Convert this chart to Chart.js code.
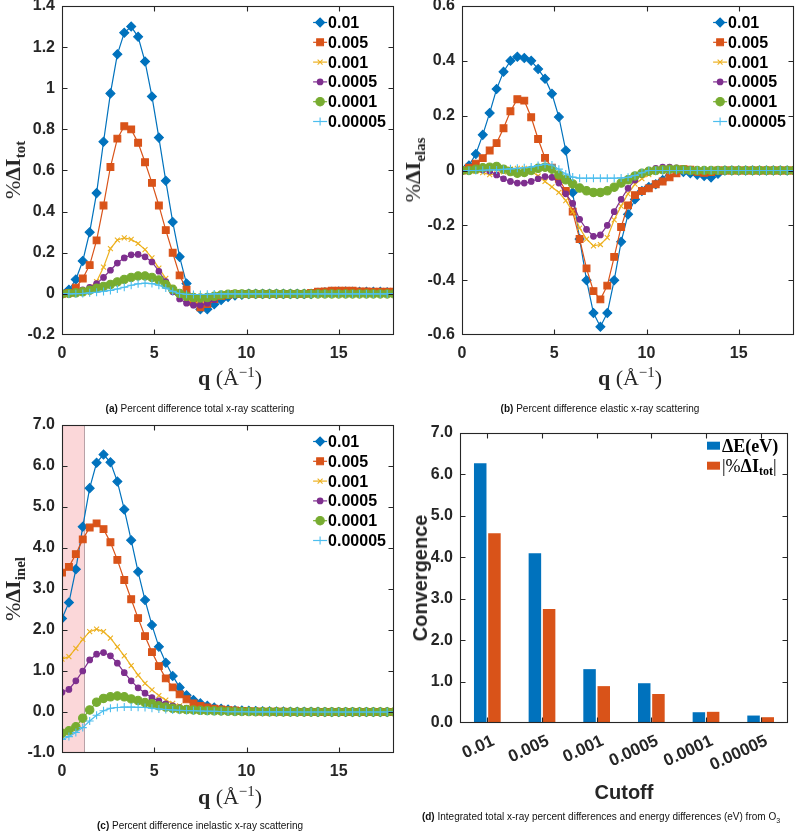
<!DOCTYPE html>
<html><head><meta charset="utf-8">
<script src="https://cdn.jsdelivr.net/npm/chart.js@4.4.1/dist/chart.umd.min.js"></script>
<style>
html,body{margin:0;padding:0;background:#fff}
body{width:800px;height:831px;position:relative;overflow:hidden;font-family:'Liberation Sans',Arial,sans-serif}
canvas{position:absolute}
.lbl{position:absolute;white-space:nowrap;color:#262626;transform:translate(-50%,-50%);z-index:2;line-height:1}
.tex{font-family:'Liberation Serif','Times New Roman',serif;font-size:22px}
.tex sub{font-size:68%;vertical-align:baseline;position:relative;top:0.32em}
.tex sup{font-size:68%;vertical-align:baseline;position:relative;top:-0.55em}
.rot{transform:translate(-50%,-50%) rotate(-90deg)}
.sans{font-weight:bold;font-size:20px}
.cap{position:absolute;white-space:nowrap;font-size:10px;color:#111;transform:translate(-50%,-50%);z-index:2}
.cap sub{font-size:70%}
</style></head>
<body>
<canvas id="cA" width="400" height="415" style="left:0;top:0"></canvas>
<canvas id="cB" width="400" height="415" style="left:400px;top:0"></canvas>
<canvas id="cC" width="400" height="416" style="left:0;top:415px"></canvas>
<canvas id="cD" width="400" height="416" style="left:400px;top:415px"></canvas>

<div class="lbl tex rot" style="left:13px;top:170px">%<b>ΔI<sub>tot</sub></b></div>
<div class="lbl tex" style="left:230px;top:378px"><b>q</b> (Å<sup>−1</sup>)</div>
<div class="cap" style="left:200px;top:408px"><b>(a)</b> Percent difference total x-ray scattering</div>

<div class="lbl tex rot" style="left:413px;top:170px">%<b>ΔI<sub>elas</sub></b></div>
<div class="lbl tex" style="left:630px;top:378px"><b>q</b> (Å<sup>−1</sup>)</div>
<div class="cap" style="left:600px;top:408px"><b>(b)</b> Percent difference elastic x-ray scattering</div>

<div class="lbl tex rot" style="left:13px;top:589px">%<b>ΔI<sub>inel</sub></b></div>
<div class="lbl tex" style="left:230px;top:797px"><b>q</b> (Å<sup>−1</sup>)</div>
<div class="cap" style="left:200px;top:825px"><b>(c)</b> Percent difference inelastic x-ray scattering</div>

<div class="lbl sans rot" style="left:420px;top:578px">Convergence</div>
<div class="lbl sans" style="left:624px;top:792px">Cutoff</div>
<div class="cap" style="left:601px;top:817px"><b>(d)</b> Integrated total x-ray percent differences and energy differences (eV) from O<sub>3</sub></div>

<script>
// ---------------- DATA ----------------
const cutoffs = ['0.01','0.005','0.001','0.0005','0.0001','0.00005'];

const q = [0,0.375,0.75,1.125,1.5,1.875,2.25,2.625,3,3.375,
  3.75,4.125,4.5,4.875,5.25,5.625,6,6.375,6.75,7.125,
  7.5,7.875,8.25,8.625,9,9.375,9.75,10.125,10.5,10.875,
  11.25,11.625,12,12.375,12.75,13.125,13.5,13.875,14.25,14.625,
  15,15.375,15.75,16.125,16.5,16.875,17.25,17.625,18];

const qTicks = [0,5,10,15];
const qTickLabels = ['0','5','10','15'];

// (a) total
const tot_01 = [0,0.02,0.07,0.16,0.30,0.49,0.74,0.975,1.165,1.27,
  1.30,1.25,1.13,0.96,0.76,0.55,0.35,0.18,0.05,-0.045,
  -0.075,-0.075,-0.05,-0.03,-0.015,-0.008,-0.004,0,0,0,
  0,0,0,0,0,0,0,0.005,0.008,0.01,
  0.012,0.012,0.01,0.01,0.01,0.01,0.01,0.008,0.008];
const tot_005 = [0,0.005,0.03,0.075,0.14,0.26,0.43,0.617,0.755,0.815,
  0.80,0.735,0.64,0.54,0.43,0.31,0.20,0.09,0.02,-0.04,
  -0.065,-0.05,-0.025,-0.01,-0.005,0,0,0,0,0,
  0,0,0,0,0,0,0.005,0.01,0.012,0.015,
  0.015,0.015,0.015,0.012,0.012,0.01,0.01,0.01,0.01];
const tot_001 = [0,0.002,0.006,0.015,0.03,0.06,0.13,0.22,0.262,0.272,
  0.265,0.245,0.215,0.175,0.125,0.075,0.03,-0.005,-0.025,-0.04,
  -0.045,-0.04,-0.025,-0.012,-0.004,0,0,0,0,0,
  0,0,0,0,0,0,0,0,0,0,
  0,0,0,0,0,0,0,0,0];
const tot_0005 = [0,0.003,0.01,0.02,0.032,0.05,0.08,0.115,0.15,0.175,
  0.19,0.192,0.18,0.155,0.11,0.06,0.01,-0.025,-0.045,-0.055,
  -0.055,-0.045,-0.028,-0.012,-0.004,0,0,0,0,0,
  0,0,0,0,0,0,0,0,0,0,
  0,0,0,0,0,0,0,0,0];
const tot_0001 = [0,0.002,0.005,0.01,0.018,0.027,0.036,0.046,0.058,0.07,
  0.08,0.087,0.087,0.08,0.068,0.045,0.022,0.002,-0.012,-0.018,
  -0.02,-0.018,-0.012,-0.006,-0.002,0,0,0,0,0,
  0,0,0,0,0,0,0,0,0,0,
  0,0,0,0,0,0,0,0,0];
const tot_00005 = [0,0,0.001,0.002,0.005,0.008,0.012,0.017,0.024,0.032,
  0.042,0.049,0.052,0.05,0.042,0.028,0.012,0.002,-0.002,-0.003,
  -0.003,-0.002,0,0,0,0,0,0,0,0,
  0,0,0,0,0,0,0,0,0,0,
  0,0,0,0,0,0,0,0,0];

// (b) elastic
const elas_01 = [0,0.018,0.06,0.13,0.21,0.297,0.36,0.40,0.415,0.41,
  0.40,0.37,0.335,0.28,0.195,0.073,-0.08,-0.25,-0.40,-0.52,
  -0.57,-0.52,-0.40,-0.26,-0.16,-0.105,-0.075,-0.06,-0.05,-0.035,
  0.005,0,-0.005,-0.01,-0.015,-0.02,-0.025,-0.012,0,0,
  0,0,0,0,0,0,0,0,0];
const elas_005 = [0,0.01,0.025,0.045,0.073,0.10,0.154,0.216,0.26,0.255,
  0.194,0.115,0.046,0.01,-0.03,-0.075,-0.15,-0.25,-0.357,-0.44,
  -0.47,-0.42,-0.315,-0.206,-0.127,-0.09,-0.075,-0.065,-0.05,-0.04,
  -0.025,-0.01,0.005,0.003,-0.005,-0.008,-0.006,0,0,0,
  0,0,0,0,0,0,0,0,0];
const elas_001 = [0,0,-0.003,-0.008,-0.015,-0.012,-0.005,0.005,0.008,0.008,
  -0.002,-0.02,-0.04,-0.06,-0.08,-0.11,-0.15,-0.21,-0.25,-0.275,
  -0.27,-0.245,-0.18,-0.13,-0.085,-0.05,-0.03,-0.015,-0.005,0.003,
  0.006,0.006,0.003,-0.003,-0.003,-0.003,-0.003,0,0,0,
  0,0,0,0,0,0,0,0,0];
const elas_0005 = [0,0,0.003,0.003,-0.002,-0.016,-0.03,-0.04,-0.046,-0.046,
  -0.04,-0.03,-0.022,-0.025,-0.046,-0.085,-0.12,-0.178,-0.215,-0.24,
  -0.235,-0.20,-0.15,-0.105,-0.065,-0.035,-0.015,0,0.008,0.012,
  0.012,0.01,0.006,0.003,0,0,0,0,0,0,
  0,0,0,0,0,0,0,0,0];
const elas_0001 = [0,0,0.005,0.01,0.012,0.015,0.005,-0.004,-0.01,-0.007,
  0,0.008,0.012,0.005,-0.016,-0.034,-0.049,-0.064,-0.074,-0.08,
  -0.08,-0.074,-0.061,-0.046,-0.034,-0.02,-0.01,-0.003,0,0.003,
  0.005,0.005,0.003,0,0,0,0,0,0,0,
  0,0,0,0,0,0,0,0,0];
const elas_00005 = [0,0,0,0.001,0.002,0.002,0.004,0.006,0.008,0.01,
  0.013,0.018,0.023,0.02,0.005,-0.013,-0.024,-0.028,-0.028,-0.028,
  -0.028,-0.028,-0.028,-0.027,-0.025,-0.018,-0.008,0,0,0,
  0,0,0,0,0,0,0,0,0,0,
  0,0,0,0,0,0,0,0,0];

// (c) inelastic
const inel_01 = [2.28,2.67,3.48,4.52,5.46,6.08,6.28,6.09,5.62,4.94,
  4.19,3.42,2.73,2.12,1.59,1.20,0.88,0.60,0.41,0.29,
  0.21,0.15,0.11,0.08,0.06,0.045,0.035,0.03,0.025,0.02,
  0.015,0.012,0.01,0.008,0.006,0.005,0.004,0.003,0.002,0.002,
  0.001,0.001,0,0,0,0,0,0,0];
const inel_005 = [3.40,3.54,3.85,4.21,4.50,4.60,4.46,4.14,3.71,3.22,
  2.75,2.29,1.85,1.46,1.12,0.82,0.60,0.43,0.31,0.21,
  0.15,0.11,0.08,0.06,0.045,0.035,0.025,0.02,0.015,0.01,
  0.008,0.006,0.005,0.004,0.003,0.002,0.002,0.001,0.001,0,
  0,0,0,0,0,0,0,0,0];
const inel_001 = [1.29,1.35,1.55,1.77,1.96,2.02,1.96,1.80,1.59,1.37,
  1.13,0.90,0.70,0.54,0.40,0.29,0.21,0.15,0.11,0.08,
  0.06,0.045,0.035,0.025,0.02,0.015,0.012,0.01,0.008,0.006,
  0.005,0.004,0.003,0.002,0.002,0.001,0.001,0,0,0,
  0,0,0,0,0,0,0,0,0];
const inel_0005 = [0.48,0.55,0.76,1.00,1.27,1.41,1.45,1.37,1.19,0.96,
  0.76,0.59,0.46,0.35,0.27,0.20,0.15,0.11,0.08,0.06,
  0.045,0.035,0.025,0.02,0.015,0.012,0.01,0.008,0.006,0.005,
  0.004,0.003,0.002,0.002,0.001,0.001,0,0,0,0,
  0,0,0,0,0,0,0,0,0];
const inel_0001 = [-0.52,-0.46,-0.36,-0.15,0.05,0.24,0.33,0.37,0.39,0.37,
  0.32,0.28,0.23,0.20,0.15,0.12,0.09,0.07,0.06,0.05,
  0.04,0.035,0.03,0.025,0.02,0.015,0.012,0.01,0.008,0.006,
  0.005,0.004,0.003,0.002,0.002,0.001,0.001,0,0,0,
  0,0,0,0,0,0,0,0,0];
const inel_00005 = [-0.67,-0.60,-0.50,-0.38,-0.22,-0.08,0.03,0.09,0.11,0.12,
  0.12,0.115,0.11,0.09,0.075,0.06,0.05,0.04,0.035,0.03,
  0.025,0.02,0.015,0.012,0.01,0.008,0.006,0.005,0.004,0.003,
  0.002,0.002,0.001,0.001,0,0,0,0,0,0,
  0,0,0,0,0,0,0,0,0];

// (d) bars
const energyDiff = [6.27,4.10,1.30,0.96,0.26,0.18];
const intTotDiff = [4.58,2.75,0.89,0.70,0.27,0.14];

// tick values / labels
const totTicks = [-0.2,0,0.2,0.4,0.6,0.8,1,1.2,1.4];
const totTickLabels = ['-0.2','0','0.2','0.4','0.6','0.8','1','1.2','1.4'];
const elasTicks = [-0.6,-0.4,-0.2,0,0.2,0.4,0.6];
const elasTickLabels = ['-0.6','-0.4','-0.2','0','0.2','0.4','0.6'];
const inelTicks = [-1,0,1,2,3,4,5,6,7];
const inelTickLabels = ['-1.0','0.0','1.0','2.0','3.0','4.0','5.0','6.0','7.0'];
const convTicks = [0,1,2,3,4,5,6,7];
const convTickLabels = ['0.0','1.0','2.0','3.0','4.0','5.0','6.0','7.0'];
const shadeRange = [0,1.2];

// ---------------- STYLE ----------------
const INK = '#262626';
const STYLES = [
  {color:'#0072BD', pointStyle:'rectRot', radius:4.5},
  {color:'#D95319', pointStyle:'rect', radius:4.8},
  {color:'#EDB120', pointStyle:'crossRot', radius:3.5},
  {color:'#7E2F8E', pointStyle:'circle', radius:2.8},
  {color:'#77AC30', pointStyle:'circle', radius:4.2},
  {color:'#4DBEEE', pointStyle:'cross', radius:4}
];
Chart.defaults.font.family = "'Liberation Sans', Arial, sans-serif";
Chart.defaults.font.size = 16;
Chart.defaults.font.weight = 'bold';
Chart.defaults.color = INK;

function makeSets(seriesList){
  return seriesList.map((vals, i) => {
    const s = STYLES[i];
    return {
      label: cutoffs[i],
      data: q.map((x, k) => ({x: x, y: vals[k]})),
      borderColor: s.color, backgroundColor: s.color,
      pointBackgroundColor: s.color, pointBorderColor: s.color,
      pointStyle: s.pointStyle, pointRadius: s.radius, pointHoverRadius: s.radius,
      pointBorderWidth: 1.1, borderWidth: 1.2, tension: 0,
      order: seriesList.length - i
    };
  });
}

function drawMarker(ctx, s, x, y){
  ctx.save();
  ctx.fillStyle = s.color; ctx.strokeStyle = s.color; ctx.lineWidth = 1.1;
  if (Chart.helpers && Chart.helpers.drawPoint) {
    Chart.helpers.drawPoint(ctx, {pointStyle: s.pointStyle, rotation: 0, radius: s.radius, borderWidth: 1.1}, x, y);
  } else {
    ctx.beginPath(); ctx.arc(x, y, s.radius, 0, Math.PI*2); ctx.fill();
  }
  ctx.restore();
}

const matlabAxes = {
  id: 'matlabAxes',
  beforeDatasetsDraw(chart, args, o){
    if (!o.shade) return;
    const {ctx, chartArea: a, scales} = chart;
    const x0 = scales.x.getPixelForValue(o.shade[0]);
    const x1 = scales.x.getPixelForValue(o.shade[1]);
    ctx.save();
    ctx.fillStyle = '#fbd7d9';
    ctx.fillRect(x0, a.top, x1 - x0, a.bottom - a.top);
    ctx.strokeStyle = '#b8a2a7'; ctx.lineWidth = 1;
    ctx.beginPath(); ctx.moveTo(Math.round(x1) + 0.5, a.top); ctx.lineTo(Math.round(x1) + 0.5, a.bottom); ctx.stroke();
    ctx.restore();
  },
  afterDatasetsDraw(chart){
    const {ctx, chartArea: a, scales} = chart;
    const L = Math.round(a.left) + 0.5, R = Math.round(a.right) - 0.5;
    const T = Math.round(a.top) + 0.5, B = Math.round(a.bottom) - 0.5;
    ctx.save();
    ctx.strokeStyle = INK; ctx.lineWidth = 1.1;
    ctx.strokeRect(L, T, R - L, B - T);
    ctx.beginPath();
    scales.x.ticks.forEach((t, i) => {
      const px = Math.round(scales.x.getPixelForTick(i)) + 0.5;
      if (px <= L + 1 || px >= R - 1) return;
      ctx.moveTo(px, B); ctx.lineTo(px, B - 5);
      ctx.moveTo(px, T); ctx.lineTo(px, T + 5);
    });
    scales.y.ticks.forEach((t, i) => {
      const py = Math.round(scales.y.getPixelForTick(i)) + 0.5;
      if (py <= T + 1 || py >= B - 1) return;
      ctx.moveTo(L, py); ctx.lineTo(L + 5, py);
      ctx.moveTo(R, py); ctx.lineTo(R - 5, py);
    });
    ctx.stroke();
    ctx.restore();
  }
};

const lineLegend = {
  id: 'lineLegend',
  afterDraw(chart, args, o){
    if (!o.show) return;
    const {ctx, chartArea: a} = chart;
    const x0 = a.right - 81;
    let y = a.top + 16.5;
    chart.data.datasets.forEach((ds, i) => {
      const s = STYLES[i];
      ctx.save();
      ctx.strokeStyle = s.color; ctx.lineWidth = 1.2;
      ctx.beginPath(); ctx.moveTo(x0, y); ctx.lineTo(x0 + 14, y); ctx.stroke();
      ctx.restore();
      drawMarker(ctx, s, x0 + 7, y);
      ctx.save();
      ctx.fillStyle = '#000';
      ctx.font = "bold 16px 'Liberation Sans', Arial, sans-serif";
      ctx.textBaseline = 'middle'; ctx.textAlign = 'left';
      ctx.fillText(ds.label, x0 + 15, y + 1);
      ctx.restore();
      y += 19.8;
    });
  }
};

const barLegend = {
  id: 'barLegend',
  afterDraw(chart, args, o){
    const {ctx, chartArea: a} = chart;
    const x0 = a.right - 81;
    let y = a.top + 12.7;
    const serif = "'Liberation Serif','Times New Roman',serif";
    o.entries.forEach((parts, i) => {
      ctx.save();
      ctx.fillStyle = chart.data.datasets[i].backgroundColor;
      ctx.fillRect(x0, y - 4, 13, 8);
      let x = x0 + 15;
      ctx.fillStyle = '#000'; ctx.textBaseline = 'alphabetic'; ctx.textAlign = 'left';
      parts.forEach(p => {
        const size = p.sub ? 12 : 18;
        ctx.font = (p.bold ? 'bold ' : '') + size + 'px ' + serif;
        ctx.fillText(p.t, x, y + 6 + (p.sub ? 3 : 0));
        x += ctx.measureText(p.t).width;
      });
      ctx.restore();
      y += 20;
    });
  }
};

function fixedTicks(values){ return s => { s.ticks = values.map(v => ({value: v})); }; }

function lineChart(id, seriesList, yMin, yMax, yTicks, yLabels, geo){
  return new Chart(document.getElementById(id), {
    type: 'line',
    data: {datasets: makeSets(seriesList)},
    options: {
      responsive: false, animation: false, events: [],
      layout: {padding: {top: geo.top, right: geo.right, left: 0, bottom: 0}},
      plugins: {legend: {display: false}, tooltip: {enabled: false},
        matlabAxes: {shade: geo.shade || null}, lineLegend: {show: true}},
      scales: {
        x: {type: 'linear', min: 0, max: 18,
          afterBuildTicks: fixedTicks(qTicks),
          ticks: {padding: 9, maxRotation: 0, autoSkip: false, callback: (v, i) => qTickLabels[i]},
          grid: {display: false, drawTicks: false}, border: {display: false},
          afterFit: s => { s.height = geo.xh; s.paddingLeft = 0; s.paddingRight = 0; }},
        y: {type: 'linear', min: yMin, max: yMax,
          afterBuildTicks: fixedTicks(yTicks),
          ticks: {padding: 7, autoSkip: false, callback: (v, i) => yLabels[i]},
          grid: {display: false, drawTicks: false}, border: {display: false},
          afterFit: s => { s.width = geo.yw; s.paddingTop = 0; s.paddingBottom = 0; }}
      }
    },
    plugins: [matlabAxes, lineLegend]
  });
}

lineChart('cA', [tot_01, tot_005, tot_001, tot_0005, tot_0001, tot_00005],
  -0.2, 1.4, totTicks, totTickLabels, {top: 6, right: 2, xh: 80, yw: 62});
lineChart('cB', [elas_01, elas_005, elas_001, elas_0005, elas_0001, elas_00005],
  -0.6, 0.6, elasTicks, elasTickLabels, {top: 6, right: 2, xh: 80, yw: 62});
lineChart('cC', [inel_01, inel_005, inel_001, inel_0005, inel_0001, inel_00005],
  -1, 7, inelTicks, inelTickLabels, {top: 10, right: 2, xh: 78, yw: 62, shade: shadeRange});

new Chart(document.getElementById('cD'), {
  type: 'bar',
  data: {
    labels: cutoffs,
    datasets: [
      {label: 'ΔE(eV)', data: energyDiff, backgroundColor: '#0072BD', categoryPercentage: 0.52, barPercentage: 0.88},
      {label: '|%ΔI_tot|', data: intTotDiff, backgroundColor: '#D95319', categoryPercentage: 0.52, barPercentage: 0.88}
    ]
  },
  options: {
    responsive: false, animation: false, events: [],
    layout: {padding: {top: 18, right: 12, left: 0, bottom: 0}},
    plugins: {legend: {display: false}, tooltip: {enabled: false},
      barLegend: {entries: [
        [{t: 'ΔE(eV)', bold: true}],
        [{t: '|%'}, {t: 'ΔI', bold: true}, {t: 'tot', bold: true, sub: true}, {t: '|'}]
      ]}},
    scales: {
      x: {type: 'category',
        ticks: {padding: 8, labelOffset: 6, minRotation: 25, maxRotation: 25, autoSkip: false, font: {size: 17, weight: 'bold'}},
        grid: {display: false, drawTicks: false}, border: {display: false},
        afterFit: s => { s.height = 108; s.paddingLeft = 0; s.paddingRight = 0; }},
      y: {type: 'linear', min: 0, max: 7,
        afterBuildTicks: fixedTicks(convTicks),
        ticks: {padding: 7, autoSkip: false, callback: (v, i) => convTickLabels[i]},
        grid: {display: false, drawTicks: false}, border: {display: false},
        afterFit: s => { s.width = 60; s.paddingTop = 0; s.paddingBottom = 0; }}
    }
  },
  plugins: [matlabAxes, barLegend]
});
</script>
</body></html>
